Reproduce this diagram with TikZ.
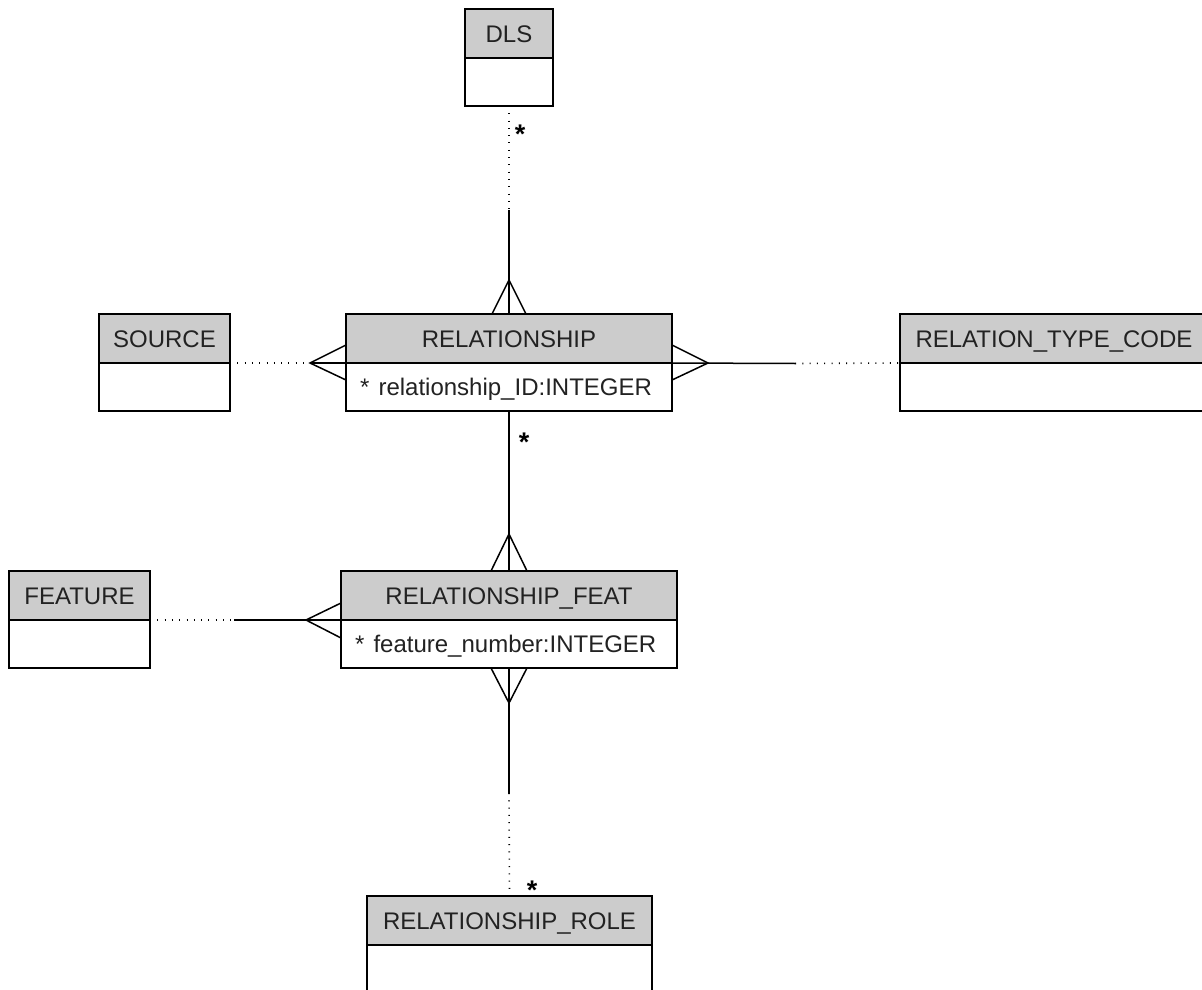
\documentclass[tikz,border=0pt]{standalone}
\usepackage{fontspec}
\setmainfont{Liberation Sans}
\usepackage{xcolor}
\usepackage{tikz}
\usetikzlibrary{calc,positioning}
\definecolor{headfill}{HTML}{CCCCCC}
\definecolor{textdark}{HTML}{222222}

\begin{document}
\begin{tikzpicture}[
  x=0.5pt, y=-0.5pt,
  entityhead/.style={
    rectangle, draw=black, line width=0.85pt, fill=headfill,
    minimum height=24.5pt, inner sep=0pt, outer sep=0pt, anchor=north west,
    text height=8.6pt, text depth=0pt,
    font=\fontsize{12}{14}\selectfont, text=textdark,
  },
  entitybody/.style={
    rectangle, draw=black, line width=0.85pt, fill=white,
    minimum height=24pt, inner xsep=7pt, inner ysep=0pt, outer sep=0pt,
    align=left, text height=8.6pt, text depth=0pt,
    font=\fontsize{12}{14}\selectfont, text=textdark,
  },
  link/.style={draw=black, line width=0.75pt},
  dotlink/.style={draw=black, line width=0.8pt, dash pattern=on 0.5pt off 3.15pt},
  mult/.style={font=\bfseries\fontsize{13.5}{14}\selectfont, inner sep=0pt, anchor=base},
]
\useasboundingbox (0,0) rectangle (1202,989);

% entities
\node[entityhead, minimum width=44pt] (dls) at (465,9) {DLS};
\node[entitybody, minimum width=44pt, below=0pt of dls] (dls-body) {};

\node[entityhead, minimum width=163pt] (rel) at (346,314) {RELATIONSHIP};
\node[entitybody, text width=149pt, below=0pt of rel] (rel-body) {*\hspace{4.6pt}relationship\_ID:INTEGER};

\node[entityhead, minimum width=65.5pt] (src) at (99,314) {SOURCE};
\node[entitybody, minimum width=65.5pt, below=0pt of src] (src-body) {};

\node[entityhead, minimum width=154pt] (rtc) at (900,314) {RELATION\_TYPE\_CODE};
\node[entitybody, minimum width=154pt, below=0pt of rtc] (rtc-body) {};

\node[entityhead, minimum width=70.5pt] (feat) at (9,571) {FEATURE};
\node[entitybody, minimum width=70.5pt, below=0pt of feat] (feat-body) {};

\node[entityhead, minimum width=168pt] (rfeat) at (341,571) {RELATIONSHIP\_FEAT};
\node[entitybody, text width=154pt, below=0pt of rfeat] (rfeat-body) {*\hspace{4.6pt}feature\_number:INTEGER};

\node[entityhead, minimum width=142.5pt] (role) at (367,896) {RELATIONSHIP\_ROLE};
\node[entitybody, minimum width=142.5pt, below=0pt of role] (role-body) {};

% break points of the connectors
\coordinate (dls-mid) at (509,210);
\coordinate (src-apex) at ($(rel.south west)+(-36,0)$);
\coordinate (rtc-mid) at (795,363.5);
\coordinate (feat-mid) at (234,620);
\coordinate (role-mid) at (509,793);

% connectors
\draw[dotlink] (dls-body.south) -- (dls-mid);
\draw[link] (dls-mid) -- (rel.north);
\draw[dotlink] (src.south east) -- (src-apex);
\draw[link] (src-apex) -- (rel.south west);
\draw[link] (rel.south east) -- (rtc-mid);
\draw[dotlink] (rtc-mid) -- (rtc.south west);
\draw[link] (rel-body.south) -- (rfeat.north);
\draw[dotlink] (feat.south east) -- (feat-mid);
\draw[link] (feat-mid) -- (rfeat.south west);
\draw[link] (rfeat-body.south) -- (role-mid);
\draw[dotlink] (role-mid) -- (role.north);

% crow's feet
\draw[link] ($(rel.north)+(-17,0)$) -- ($(rel.north)+(0,-34)$) -- ($(rel.north)+(17,0)$);
\draw[link] ($(rel.south west)+(0,-18)$) -- (src-apex) -- ($(rel.south west)+(0,17)$);
\draw[link] ($(rel.south east)+(0,-18)$) -- ($(rel.south east)+(36,0)$) -- ($(rel.south east)+(0,17)$);
\draw[link] ($(rfeat.north)+(-18,0)$) -- ($(rfeat.north)+(0,-37)$) -- ($(rfeat.north)+(18,0)$);
\draw[link] ($(rfeat.south west)+(0,-17)$) -- ($(rfeat.south west)+(-35,0)$) -- ($(rfeat.south west)+(0,18)$);
\draw[link] ($(rfeat-body.south)+(-18,0)$) -- ($(rfeat-body.south)+(0,35)$) -- ($(rfeat-body.south)+(18,0)$);

% multiplicities
\node[mult] (m-dls) at (520,144) {*};
\node[mult] (m-rel) at (524,451) {*};
\node[mult] (m-role) at (532,899) {*};

\end{tikzpicture}
\end{document}
